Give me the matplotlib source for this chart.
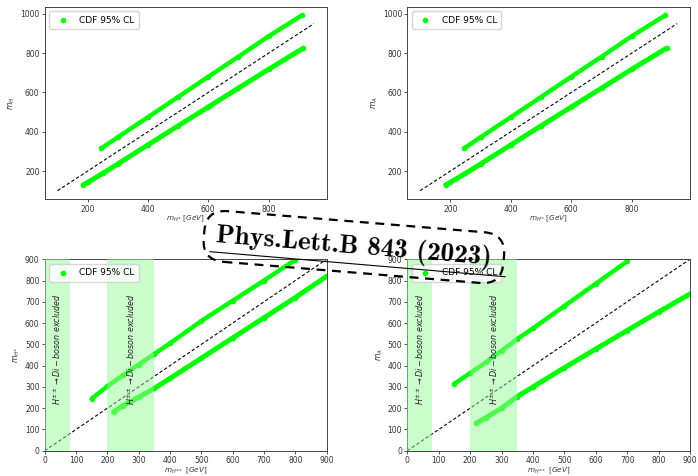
import numpy as np
import matplotlib.pyplot as plt
from matplotlib.lines import Line2D

lime = '#00ff00'

# top row: m_H and m_A against m_H+ (upper / lower allowed bands)
hc_up_top = [245, 300, 400, 500, 600, 700, 800, 910]
h_up_top = [315, 372, 474, 577, 680, 782, 886, 992]
hc_lo_top = [185, 200, 250, 300, 400, 500, 600, 700, 800, 915]
h_lo_top = [130, 142, 188, 236, 333, 430, 526, 622, 718, 825]

hc_up_a = [245, 300, 400, 500, 600, 700, 800, 910]
a_up_top = [315, 372, 474, 577, 680, 782, 886, 992]
hc_lo_a = [185, 200, 250, 300, 400, 500, 600, 700, 800, 915]
a_lo_top = [130, 142, 188, 236, 333, 430, 526, 622, 718, 825]

# bottom row: m_H+ and m_A against m_H++
hcc_up_l = [150, 200, 250, 300, 350, 400, 500, 600, 700, 800]
hc_up_l = [245, 303, 355, 405, 455, 505, 610, 705, 800, 897]
hcc_lo_l = [220, 250, 300, 350, 400, 500, 600, 700, 800, 900]
hc_lo_l = [183, 212, 252, 293, 340, 435, 530, 625, 720, 820]

hcc_up_r = [150, 200, 250, 300, 350, 400, 500, 600, 700]
a_up_r = [315, 365, 415, 470, 525, 575, 680, 785, 890]
hcc_lo_r = [220, 250, 300, 350, 400, 500, 600, 700, 800, 900]
a_lo_r = [130, 155, 200, 255, 300, 390, 478, 565, 652, 737]

diag_top = [100, 950]
diag_bot = [0, 900]
excl_spans = [(0, 80), (200, 350)]
excl_text_x = [40, 275]

fig = plt.figure(figsize=(6.98, 4.76), dpi=100)
ax1 = fig.add_axes([0.064, 0.581, 0.404, 0.405])
ax2 = fig.add_axes([0.5835, 0.581, 0.405, 0.405])
ax3 = fig.add_axes([0.064, 0.053, 0.404, 0.4024])
ax4 = fig.add_axes([0.5835, 0.053, 0.405, 0.4024])


def bands(ax, xu, yu, xl, yl):
    ax.plot(xu, yu, '-', color=lime, lw=3.2, solid_capstyle='round', zorder=2)
    ax.plot(xl, yl, '-', color=lime, lw=3.6, solid_capstyle='round', zorder=2)
    ax.scatter(xu, yu, s=9, color=lime, zorder=2, label='CDF 95% CL')
    ax.scatter(xl, yl, s=9, color=lime, zorder=2)


def style(ax, xlab, ylab):
    ax.tick_params(labelsize=5.5, length=2.2, width=0.6, pad=1.5, colors='#333333')
    for s in ax.spines.values():
        s.set_linewidth(0.7)
        s.set_color('#444444')
    ax.set_xlabel(xlab, fontsize=5.2, labelpad=0.3, color='#333333')
    ax.set_ylabel(ylab, fontsize=5.5, labelpad=2, color='#333333')
    ax.legend(loc='upper left', fontsize=6.5, scatterpoints=1, handletextpad=0.8,
              borderpad=0.5, framealpha=0.8)


bands(ax1, hc_up_top, h_up_top, hc_lo_top, h_lo_top)
ax1.plot(diag_top, diag_top, 'k--', lw=0.8, dashes=(3, 2))
style(ax1, r'$m_{H^{\pm}}\ [GeV]$', r'$m_{H}$')

bands(ax2, hc_up_a, a_up_top, hc_lo_a, a_lo_top)
ax2.plot(diag_top, diag_top, 'k--', lw=0.8, dashes=(3, 2))
style(ax2, r'$m_{H^{\pm}}\ [GeV]$', r'$m_{A}$')

for ax, xu, yu, xl, yl, ylab in [(ax3, hcc_up_l, hc_up_l, hcc_lo_l, hc_lo_l, r'$m_{H^{\pm}}$'),
                                 (ax4, hcc_up_r, a_up_r, hcc_lo_r, a_lo_r, r'$m_{A}$')]:
    bands(ax, xu, yu, xl, yl)
    ax.plot(diag_bot, diag_bot, 'k--', lw=0.8, dashes=(3, 2))
    for (a, b), tx in zip(excl_spans, excl_text_x):
        ax.axvspan(a, b, color='palegreen', alpha=0.5, lw=0, zorder=3)
        ax.text(tx, 478, r'$H^{\pm\pm}\rightarrow Di-boson\ excluded$', rotation=90,
                ha='center', va='center', fontsize=5.8, color='#222222', zorder=4)
    ax.set_xlim(0, 900)
    ax.set_ylim(0, 900)
    ax.set_xticks(np.arange(0, 901, 100))
    ax.set_yticks(np.arange(0, 901, 100))
    style(ax, r'$m_{H^{\pm\pm}}\ [GeV]$', ylab)

# journal stamp across the middle
fig.text(0.507, 0.481, 'Phys.Lett.B 843 (2023)', fontsize=19.5, fontfamily='cmb10',
         rotation=-4.7, rotation_mode='anchor', ha='center', va='center', zorder=10,
         bbox=dict(boxstyle='round,pad=0.45,rounding_size=0.8', fc='none', ec='black',
                   ls=(0, (4, 3)), lw=1.6))
fig.add_artist(Line2D([210 / 698, 505 / 698], [1 - 251.7 / 476, 1 - 276.7 / 476],
                      color='black', lw=0.8, zorder=10))

fig.savefig('out.png', dpi=100)
